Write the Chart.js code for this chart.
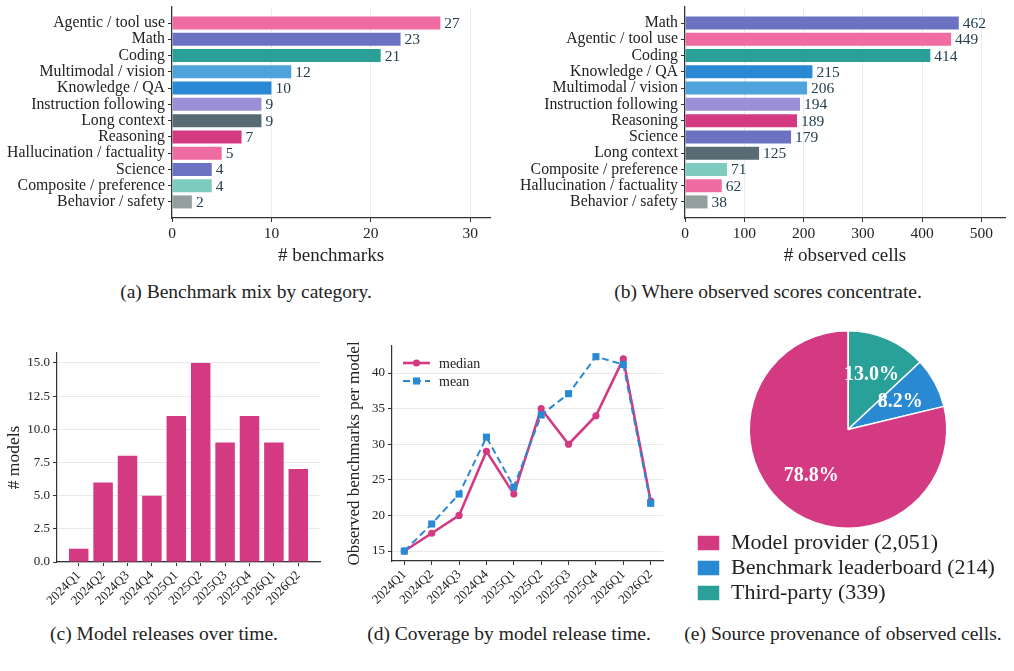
<!DOCTYPE html>
<html><head><meta charset="utf-8">
<script src="https://cdn.jsdelivr.net/npm/chart.js@4.4.1/dist/chart.umd.min.js"></script>
<style>
html,body{margin:0;padding:0;background:#fff;}
body{width:1014px;height:671px;position:relative;overflow:hidden;}
canvas{position:absolute;display:block;}
.cap{position:absolute;font-family:"Liberation Serif","Times New Roman",serif;font-size:19.5px;color:#222;transform:translate(-50%,-50%);white-space:nowrap;}
</style></head><body>
<canvas id="ca" width="500" height="270" style="left:0;top:0"></canvas>
<canvas id="cb" width="514" height="270" style="left:500px;top:0"></canvas>
<canvas id="cc" width="340" height="300" style="left:0;top:320px"></canvas>
<canvas id="cd" width="340" height="300" style="left:340px;top:320px"></canvas>
<canvas id="ce" width="308" height="290" style="left:694px;top:324px"></canvas>
<div class="cap" style="left:246px;top:292px">(a) Benchmark mix by category.</div>
<div class="cap" style="left:768px;top:292px">(b) Where observed scores concentrate.</div>
<div class="cap" style="left:164px;top:634px">(c) Model releases over time.</div>
<div class="cap" style="left:509px;top:634px">(d) Coverage by model release time.</div>
<div class="cap" style="left:843px;top:634px">(e) Source provenance of observed cells.</div>
<script>
// ---- data ----
const catsA = ["Agentic / tool use","Math","Coding","Multimodal / vision","Knowledge / QA","Instruction following","Long context","Reasoning","Hallucination / factuality","Science","Composite / preference","Behavior / safety"];
const benchCounts = [27,23,21,12,10,9,9,7,5,4,4,2];
const benchTicks = [0,10,20,30];
const catsB = ["Math","Agentic / tool use","Coding","Knowledge / QA","Multimodal / vision","Instruction following","Reasoning","Science","Long context","Composite / preference","Hallucination / factuality","Behavior / safety"];
const cellCounts = [462,449,414,215,206,194,189,179,125,71,62,38];
const cellTicks = [0,100,200,300,400,500];
const quarters = ["2024Q1","2024Q2","2024Q3","2024Q4","2025Q1","2025Q2","2025Q3","2025Q4","2026Q1","2026Q2"];
const modelReleases = [1,6,8,5,11,15,9,11,9,7];
const releaseTicks = [0,2.5,5,7.5,10,12.5,15];
const medianCoverage = [15,17.5,20,29,23,35,30,34,42,22];
const meanCoverage = [15,18.8,23,31,24,34.1,37.1,42.3,41.2,21.7];
const coverageTicks = [15,20,25,30,35,40];
const sourceNames = ["Model provider","Benchmark leaderboard","Third-party"];
const sourceCounts = [2051,214,339];

// ---- styles ----
const SERIF = "'Liberation Serif','Times New Roman',serif";
const INK = '#222';
const catColor = {
  "Agentic / tool use":"#f06ba1","Math":"#6c72c2","Coding":"#2aa198","Multimodal / vision":"#4fa3db",
  "Knowledge / QA":"#2a89d3","Instruction following":"#9b8fd8","Long context":"#586b72","Reasoning":"#d43a82",
  "Hallucination / factuality":"#f06ba1","Science":"#6c72c2","Composite / preference":"#7ecbc0","Behavior / safety":"#939f9d"
};
const MAGENTA = '#d43a82', BLUE = '#2a89d3', TEAL = '#2aa198';
const sourceColor = {"Model provider":MAGENTA,"Benchmark leaderboard":BLUE,"Third-party":TEAL};
Chart.defaults.font.family = SERIF;
Chart.defaults.color = INK;

const spine = {color:'#333', width:1.2};
const setTicks = arr => (s => { s.ticks = arr.map(v => ({value:v})); });
const idx = n => Array.from({length:n}, (_, i) => i);
const fitY = w => (s => { s.width = w; s.paddingTop = 0; s.paddingBottom = 0; });
const fitX = h => (s => { s.height = h; s.paddingLeft = 0; s.paddingRight = 0; });

const valueLabels = {
  id:'valueLabels',
  afterDatasetsDraw(chart){
    const ctx = chart.ctx, meta = chart.getDatasetMeta(0), ds = chart.data.datasets[0];
    ctx.save();
    ctx.font = '15.5px ' + SERIF; ctx.fillStyle = '#24404f';
    ctx.textAlign = 'left'; ctx.textBaseline = 'middle';
    meta.data.forEach((bar, i) => ctx.fillText(String(ds.data[i].x), bar.x + 4, bar.y + 1));
    ctx.restore();
  }
};

function hbar(id, cats, vals, xmax, xticks, title, yWidth, padRight){
  return new Chart(document.getElementById(id), {
    type:'bar',
    data:{datasets:[{data: vals.map((v,i)=>({x:v,y:i})), backgroundColor: cats.map(c=>catColor[c]),
      borderWidth:0, barPercentage:0.8, categoryPercentage:1}]},
    options:{
      indexAxis:'y', responsive:false, animation:false, devicePixelRatio:1,
      layout:{padding:{left:0,right:padRight,top:7,bottom:0}},
      plugins:{legend:{display:false}, tooltip:{enabled:false}},
      scales:{
        x:{type:'linear', bounds:'data', min:0, max:xmax, afterBuildTicks:setTicks(xticks),
          ticks:{font:{size:15.5}, color:INK, padding:3},
          grid:{color:'#ebebeb', tickColor:'#333', tickLength:4},
          border:spine,
          title:{display:true, text:title, font:{size:19}, color:INK, padding:{top:2,bottom:3}},
          afterFit:fitX(52)},
        y:{type:'linear', bounds:'data', offset:false, reverse:true, min:-0.99, max:cats.length-0.01,
          afterBuildTicks:setTicks(idx(cats.length)),
          ticks:{autoSkip:false, callback:v=>cats[v], font:{size:15.8}, color:INK, padding:3},
          grid:{offset:false, drawOnChartArea:false, tickColor:'#333', tickLength:4},
          border:spine,
          afterFit:fitY(yWidth)}
      }
    },
    plugins:[valueLabels]
  });
}
hbar('ca', catsA, benchCounts, 32, benchTicks, '# benchmarks', 172, 10);
hbar('cb', catsB, cellCounts, 540, cellTicks, '# observed cells', 185, 9);

// ---- (c) model releases ----
new Chart(document.getElementById('cc'), {
  type:'bar',
  data:{datasets:[{data: modelReleases.map((v,i)=>({x:i,y:v})), backgroundColor:MAGENTA, borderWidth:0,
    barPercentage:0.8, categoryPercentage:1}]},
  options:{
    responsive:false, animation:false, devicePixelRatio:1,
    layout:{padding:{left:0,right:20,top:33,bottom:0}},
    plugins:{legend:{display:false}, tooltip:{enabled:false}},
    scales:{
      x:{type:'linear', bounds:'data', offset:false, min:-0.89, max:quarters.length-0.11,
        afterBuildTicks:setTicks(idx(quarters.length)),
        ticks:{autoSkip:false, callback:v=>quarters[v], minRotation:45, maxRotation:45, font:{size:13}, color:INK, padding:2},
        grid:{offset:false, drawOnChartArea:false, tickColor:'#333', tickLength:4},
        border:spine, afterFit:fitX(58)},
      y:{type:'linear', bounds:'data', min:0, max:15.75, afterBuildTicks:setTicks(releaseTicks),
        ticks:{callback:v=>v.toFixed(1), font:{size:13}, color:INK, padding:3},
        grid:{color:'#e9e9e9', tickColor:'#333', tickLength:4},
        border:spine,
        title:{display:true, text:'# models', font:{size:17.5}, color:INK, padding:{top:4,bottom:0}},
        afterFit:fitY(57)}
    }
  }
});

// ---- (d) coverage ----
const lineLegend = {
  id:'lineLegend',
  afterDraw(chart){
    const ctx = chart.ctx, ca = chart.chartArea;
    const x0 = ca.left + 11, len = 27;
    chart.data.datasets.forEach((ds, k) => {
      const y = ca.top + 17 + k*18;
      ctx.save();
      ctx.strokeStyle = ds.borderColor; ctx.lineWidth = ds.borderWidth;
      ctx.setLineDash(ds.borderDash || []);
      ctx.beginPath(); ctx.moveTo(x0, y); ctx.lineTo(x0+len, y); ctx.stroke();
      ctx.setLineDash([]);
      ctx.fillStyle = ds.borderColor;
      const cx = x0 + len/2;
      if (ds.pointStyle === 'rect') { const s = ds.pointRadius*Math.SQRT1_2; ctx.fillRect(cx-s, y-s, 2*s, 2*s); }
      else { ctx.beginPath(); ctx.arc(cx, y, ds.pointRadius, 0, Math.PI*2); ctx.fill(); }
      ctx.fillStyle = INK; ctx.font = '14px ' + SERIF; ctx.textBaseline = 'middle'; ctx.textAlign='left';
      ctx.fillText(ds.label, x0 + len + 9, y + 1);
      ctx.restore();
    });
  }
};
new Chart(document.getElementById('cd'), {
  type:'line',
  data:{datasets:[
    {label:'median', data: medianCoverage.map((v,i)=>({x:i,y:v})), borderColor:MAGENTA, backgroundColor:MAGENTA,
      borderWidth:2.6, pointRadius:3.6, pointStyle:'circle', pointBorderWidth:0, pointBackgroundColor:MAGENTA, tension:0, order:1},
    {label:'mean', data: meanCoverage.map((v,i)=>({x:i,y:v})), borderColor:BLUE, backgroundColor:BLUE,
      borderWidth:2, borderDash:[7,4], pointRadius:5, pointStyle:'rect', pointBorderWidth:0, pointBackgroundColor:BLUE, tension:0, order:0}
  ]},
  options:{
    responsive:false, animation:false, devicePixelRatio:1,
    layout:{padding:{left:0,right:17,top:26,bottom:0}},
    plugins:{legend:{display:false}, tooltip:{enabled:false}},
    scales:{
      x:{type:'linear', bounds:'data', offset:false, min:-0.45, max:quarters.length-0.55,
        afterBuildTicks:setTicks(idx(quarters.length)),
        ticks:{autoSkip:false, callback:v=>quarters[v], minRotation:45, maxRotation:45, font:{size:13}, color:INK, padding:2},
        grid:{offset:false, drawOnChartArea:false, tickColor:'#333', tickLength:4},
        border:spine, afterFit:fitX(59)},
      y:{type:'linear', bounds:'data', min:13.6, max:43.8, afterBuildTicks:setTicks(coverageTicks),
        ticks:{font:{size:13}, color:INK, padding:3},
        grid:{color:'#e9e9e9', tickColor:'#333', tickLength:4},
        border:spine,
        title:{display:true, text:'Observed benchmarks per model', font:{size:17}, color:INK, padding:{top:4,bottom:0}},
        afterFit:fitY(52)}
    }
  },
  plugins:[lineLegend]
});

// ---- (e) provenance pie ----
const pieOrder = sourceNames.map((_, i) => i).reverse(); // drawn clockwise from top
const total = sourceCounts.reduce((a,b)=>a+b,0);
const pieLabels = {
  id:'pieLabels',
  afterDatasetsDraw(chart){
    const ctx = chart.ctx, meta = chart.getDatasetMeta(0), ds = chart.data.datasets[0];
    ctx.save();
    ctx.font = 'bold 20px ' + SERIF; ctx.fillStyle = '#fff';
    ctx.textAlign = 'center'; ctx.textBaseline = 'middle';
    meta.data.forEach((arc, i) => {
      const mid = (arc.startAngle + arc.endAngle)/2, r = arc.outerRadius*0.6;
      ctx.fillText((ds.data[i]/total*100).toFixed(1) + '%', arc.x + r*Math.cos(mid), arc.y + r*Math.sin(mid));
    });
    ctx.restore();
  }
};
new Chart(document.getElementById('ce'), {
  type:'pie',
  data:{
    labels: pieOrder.map(i => sourceNames[i] + ' (' + sourceCounts[i].toLocaleString('en-US') + ')'),
    datasets:[{data: pieOrder.map(i => sourceCounts[i]), backgroundColor: pieOrder.map(i => sourceColor[sourceNames[i]]),
      borderColor:'#fff', borderWidth:1.5}]
  },
  options:{
    responsive:false, animation:false, devicePixelRatio:1,
    layout:{padding:{left:0,right:0,top:6,bottom:0}},
    plugins:{
      tooltip:{enabled:false},
      legend:{position:'bottom', align:'start',
        labels:{boxWidth:23, boxHeight:16, padding:3, font:{size:22}, color:INK,
          sort:(a,b)=>b.index-a.index}}
    }
  },
  plugins:[pieLabels]
});
</script>
</body></html>
